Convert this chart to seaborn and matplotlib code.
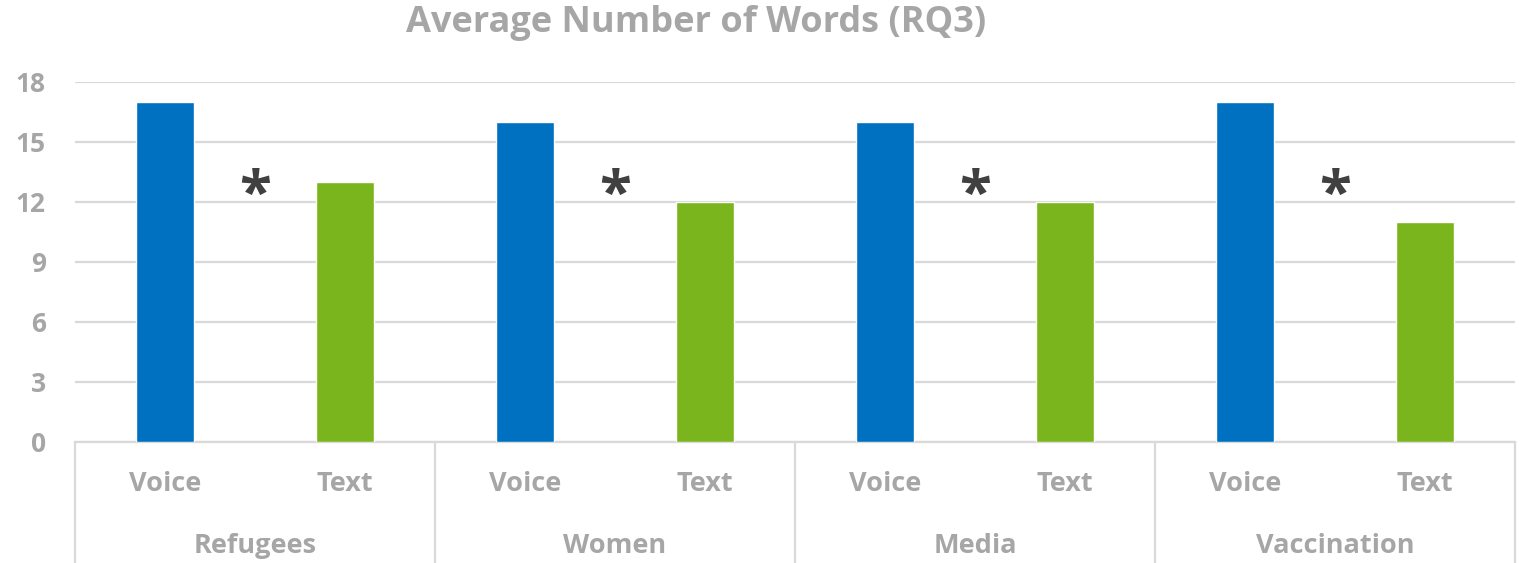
import matplotlib
matplotlib.use("Agg")
import matplotlib.pyplot as plt
import matplotlib.transforms as mtransforms
import seaborn as sns
import pandas as pd

groups = ["Refugees", "Women", "Media", "Vaccination"]
modalities = ["Voice", "Text"]
voice_values = [17, 16, 16, 17]
text_values = [13, 12, 12, 11]
significant = [True, True, True, True]
yticks = [0, 3, 6, 9, 12, 15, 18]
title = "Average Number of Words (RQ3)"

rows = []
for g, v, t in zip(groups, voice_values, text_values):
    rows.append({"slot": f"{g}|Voice", "group": g, "modality": "Voice", "value": v})
    rows.append({"slot": f"{g}|Text", "group": g, "modality": "Text", "value": t})
df = pd.DataFrame(rows)
order = list(df["slot"])

sns.set_theme(style="white")
plt.rcParams["font.family"] = ["Open Sans", "DejaVu Sans"]
plt.rcParams["font.weight"] = "bold"

GRAY = "#A6A6A6"
GRID = "#D9D9D9"

fig = plt.figure(figsize=(15.22, 5.63), dpi=100)
ax = fig.add_axes([75 / 1522, 1 - 442 / 563, 1440 / 1522, 360 / 563])

sns.barplot(data=df, x="slot", y="value", hue="modality", order=order,
            hue_order=modalities, palette={"Voice": "#0070C0", "Text": "#7AB51D"},
            dodge=False, width=0.32, saturation=1, ax=ax, legend=False, zorder=3)

ax.set_xlim(-0.5, len(order) - 0.5)
ax.set_ylim(0, 18)
ax.set_yticks(yticks)
ax.set_yticklabels([str(t) for t in yticks], color=GRAY, fontsize=19, fontweight="bold")
ax.tick_params(axis="y", length=0, pad=21)
ax.tick_params(axis="x", length=0)
ax.set_xticks([])
ax.set_xlabel("")
ax.set_ylabel("")
ax.yaxis.grid(True, color=GRID, linewidth=1.6, zorder=0)
ax.set_axisbelow(True)
for s in ["left", "right", "top"]:
    ax.spines[s].set_visible(False)
ax.spines["bottom"].set_color(GRID)
ax.spines["bottom"].set_linewidth(1.6)

trans = mtransforms.blended_transform_factory(ax.transData, ax.transAxes)
for i, slot in enumerate(order):
    g, m = slot.split("|")
    ax.text(i, -0.117, m, transform=trans, ha="center", va="center",
            color=GRAY, fontsize=19.5, fontweight="bold")
for k, g in enumerate(groups):
    ax.text(2 * k + 0.5, -0.289, g, transform=trans, ha="center", va="center",
            color=GRAY, fontsize=19.5, fontweight="bold")
    if significant[k]:
        ax.text(2 * k + 0.5, 12.6, "*", ha="center", va="center_baseline",
                color="#404040", fontsize=42, fontweight="bold")
for k in range(len(groups) + 1):
    ax.plot([2 * k - 0.5, 2 * k - 0.5], [0, -0.336], transform=trans,
            color=GRID, linewidth=1.6, clip_on=False)

fig.text(0.5 + (696 - 761) / 1522, 1 - 23 / 563, title, ha="center", va="center",
         color=GRAY, fontsize=26, fontweight="bold")

fig.savefig("out.png", dpi=100)
